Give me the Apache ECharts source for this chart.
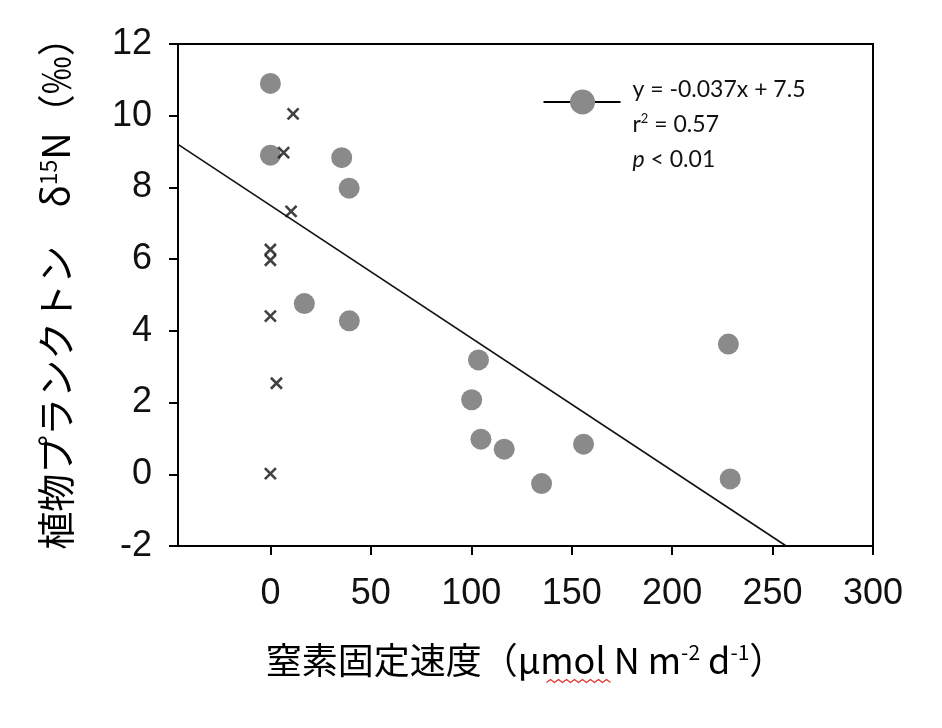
<!DOCTYPE html>
<html>
<head>
<meta charset="utf-8">
<title>窒素固定速度と植物プランクトン δ15N</title>
<script src="https://cdn.jsdelivr.net/npm/echarts@6/dist/echarts.min.js"></script>
<style>
  html, body { margin: 0; padding: 0; background: #fff; }
  #main { width: 942px; height: 728px; }
</style>
</head>
<body>
<div id="main"></div>
<script>
// 窒素固定速度 (x) と δ15N (y)
// 丸: 回帰に使った点
const circleX = [0, 0, 35.5, 39.2, 16.9, 39.3, 103.6, 100.2, 104.8, 116.4, 135, 155.9, 228, 228.9];
const circleY = [10.9, 8.9, 8.83, 7.98, 4.76, 4.28, 3.19, 2.08, 0.98, 0.70, -0.26, 0.84, 3.63, -0.13];

// ×印
const crossX = [11.3, 6.6, 10.3, 0, 0, 0, 3, 0];
const crossY = [10.05, 8.97, 7.33, 6.27, 5.97, 4.41, 2.54, 0.02];

// 回帰直線 y = -0.037x + 7.5 の両端
const fitX = [-46, 256.8];
const fitY = [9.2, -2];

const xTicks = [0, 50, 100, 150, 200, 250, 300];

const legendLines = ['y = -0.037x + 7.5', 'r{sup|2} = 0.57', '{i|p} < 0.01'];

const zip = (xs, ys) => xs.map((x, i) => [x, ys[i]]);

const chart = echarts.init(document.getElementById('main'));

const tickFont = { fontFamily: 'Liberation Sans, Arial, sans-serif', fontSize: 36, color: '#111' };
const jpFont = 'Noto Sans CJK JP, sans-serif';

chart.setOption({
    animation: false,
    grid: {
        left: 178, top: 44, right: 69, bottom: 182,
        show: true, borderColor: '#000', borderWidth: 2, backgroundColor: 'transparent'
    },
    xAxis: {
        type: 'value',
        min: -46, max: 300,
        splitLine: { show: false },
        axisLine: { onZero: false, lineStyle: { color: '#000', width: 2 } },
        axisTick: { customValues: xTicks, length: 9, lineStyle: { color: '#000', width: 2 } },
        axisLabel: Object.assign({ customValues: xTicks, margin: 30 }, tickFont),
        name: '窒素固定速度（µmol N m{sup|-2} d{sup|-1}）',
        nameLocation: 'middle',
        nameGap: 96,
        nameTextStyle: {
            fontFamily: jpFont, fontSize: 36, color: '#000',
            rich: { sup: { fontFamily: jpFont, fontSize: 21, verticalAlign: 'top', padding: [0, 0, 14, 0] } }
        }
    },
    yAxis: {
        type: 'value',
        min: -2, max: 12, interval: 2,
        splitLine: { show: false },
        axisLine: { onZero: false, lineStyle: { color: '#000', width: 2 } },
        axisTick: { length: 9, lineStyle: { color: '#000', width: 2 } },
        axisLabel: Object.assign({ margin: 26 }, tickFont),
        name: '植物プランクトン　δ{sup|15}N（‰）',
        nameLocation: 'middle',
        nameGap: 103,
        nameTextStyle: {
            fontFamily: jpFont, fontSize: 38, color: '#000',
            padding: [0, 0, 0, 22],
            rich: { sup: { fontFamily: jpFont, fontSize: 23, verticalAlign: 'top', padding: [0, 0, 14, 0] } }
        }
    },
    series: [
        {
            type: 'line',
            data: zip(fitX, fitY),
            symbol: 'none',
            lineStyle: { color: '#111', width: 1.6 },
            z: 1
        },
        {
            type: 'scatter',
            data: zip(circleX, circleY),
            symbol: 'circle',
            symbolSize: 21,
            itemStyle: { color: '#8a8a8a', opacity: 1 },
            z: 2
        },
        {
            type: 'scatter',
            data: zip(crossX, crossY),
            symbol: 'path://M0,0L10,10M10,0L0,10',
            symbolSize: 11,
            itemStyle: { color: 'none', borderColor: '#111', borderWidth: 2.6 },
            z: 3
        }
    ],
    graphic: [
        {
            type: 'group', left: 541, top: 72,
            children: [
                { type: 'line', shape: { x1: 0, y1: 30, x2: 77, y2: 30 }, style: { stroke: '#000', lineWidth: 2 } },
                { type: 'circle', shape: { cx: 39, cy: 30, r: 12.5 }, style: { fill: '#8a8a8a' } },
                {
                    type: 'text', left: 89, top: 0,
                    style: {
                        text: legendLines.join('\n'),
                        fontFamily: 'Lato, sans-serif', fontSize: 23, lineHeight: 35, fill: '#111',
                        rich: {
                            sup: { fontFamily: 'Lato, sans-serif', fontSize: 13, lineHeight: 35, padding: [0, 0, 12, 0] },
                            i: { fontFamily: 'Lato, sans-serif', fontSize: 23, fontStyle: 'italic', lineHeight: 35 }
                        }
                    }
                }
            ]
        },
        // スペルチェックの波線（元画像にあるもの）
        {
            type: 'polyline', left: 544, top: 677,
            shape: { points: [[0, 3], [4, 0], [8, 3], [12, 0], [16, 3], [20, 0], [24, 3], [28, 0], [32, 3], [36, 0], [40, 3], [44, 0], [48, 3], [52, 0], [56, 3], [60, 0], [64, 3]] },
            style: { stroke: '#e0302a', lineWidth: 1.2, fill: null }
        }
    ]
});
</script>
</body>
</html>
